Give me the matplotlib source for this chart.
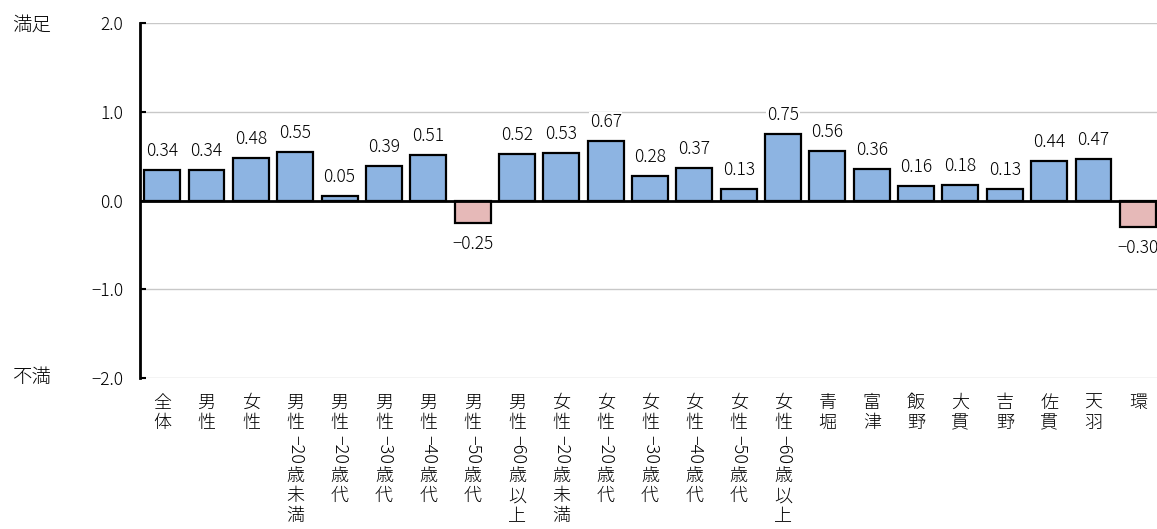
import matplotlib
matplotlib.use("Agg")
import matplotlib.pyplot as plt
import numpy as np

plt.rcParams["font.family"] = ["Noto Sans CJK JP", "DejaVu Sans"]
plt.rcParams["font.weight"] = "light"

categories = [
    "全体", "男性", "女性",
    "男性-20歳未満", "男性-20歳代", "男性-30歳代", "男性-40歳代", "男性-50歳代", "男性-60歳以上",
    "女性-20歳未満", "女性-20歳代", "女性-30歳代", "女性-40歳代", "女性-50歳代", "女性-60歳以上",
    "青堀", "富津", "飯野", "大貫", "吉野", "佐貫", "天羽", "環",
]
values = [0.34, 0.34, 0.48, 0.55, 0.05, 0.39, 0.51, -0.25, 0.52,
          0.53, 0.67, 0.28, 0.37, 0.13, 0.75, 0.56, 0.36, 0.16, 0.18,
          0.13, 0.44, 0.47, -0.30]
yticks = [-2.0, -1.0, 0.0, 1.0, 2.0]

W, H = 1157, 529
fig = plt.figure(figsize=(W / 100, H / 100), dpi=100)
ax = fig.add_axes([140 / W, 151 / H, 1020 / W, 355 / H])

x = np.arange(len(categories))
colors = ["#8DB4E2" if v >= 0 else "#E6B9B8" for v in values]
ax.bar(x, values, width=0.81, color=colors, edgecolor="black", linewidth=1.6, zorder=3)

ax.set_xlim(-0.5, len(categories) - 0.5)
ax.set_ylim(-2.0, 2.0)
ax.set_yticks(yticks)
ax.set_yticklabels([f"{t:.1f}".replace("-", "−") for t in yticks], fontsize=12.5)
ax.set_xticks([])
for t in yticks:
    if t != 0:
        ax.axhline(t, color="#C8C8C8", linewidth=1.0, zorder=1)
ax.axhline(0, color="black", linewidth=2.0, zorder=4)
for s in ["top", "right", "bottom"]:
    ax.spines[s].set_visible(False)
ax.spines["left"].set_linewidth(2.0)
ax.tick_params(axis="y", direction="in", length=4, width=1.5, pad=12, colors="black")

# value labels
for i, v in enumerate(values):
    txt = f"{v:.2f}".replace("-", "−")
    if v >= 0:
        ax.annotate(txt, (i, v), xytext=(0, 10), textcoords="offset pixels",
                    ha="center", va="bottom", fontsize=12.5, zorder=5,
                    bbox=dict(facecolor="white", edgecolor="none", pad=0.5))
    else:
        ax.annotate(txt, (i, v), xytext=(0, -12), textcoords="offset pixels",
                    ha="center", va="top", fontsize=12.5, zorder=5,
                    bbox=dict(facecolor="white", edgecolor="none", pad=0.5))

# vertical category labels: CJK upright, ASCII runs rotated
renderer = fig.canvas.get_renderer()
step = 20
for i, label in enumerate(categories):
    off = 16
    j = 0
    while j < len(label):
        ch = label[j]
        if ord(ch) < 128:
            k = j
            while k < len(label) and ord(label[k]) < 128:
                k += 1
            run = label[j:k].replace("-", "−")
            t = ax.annotate(run, (i, 0), xycoords=("data", "axes fraction"),
                            xytext=(0, -off - 1), textcoords="offset pixels",
                            rotation=270, ha="center", va="top", fontsize=13,
                            annotation_clip=False)
            bb = t.get_window_extent(renderer)
            off += bb.height + 4
            j = k
        else:
            ax.annotate(ch, (i, 0), xycoords=("data", "axes fraction"),
                        xytext=(0, -off), textcoords="offset pixels",
                        ha="center", va="top", fontsize=13,
                        annotation_clip=False)
            off += step
            j += 1

fig.text(12 / W, 1 - 25 / H, "満足", fontsize=14, va="center", ha="left")
fig.text(12 / W, 1 - 378 / H, "不満", fontsize=14, va="center", ha="left")

fig.savefig("out.png", dpi=100)
